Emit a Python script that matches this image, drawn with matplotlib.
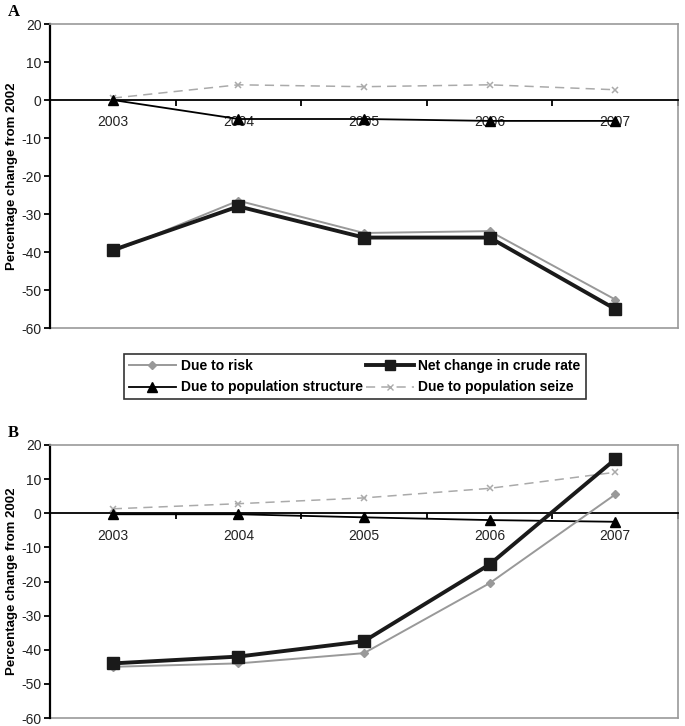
import matplotlib
matplotlib.use("Agg")
import matplotlib.pyplot as plt
from matplotlib.lines import Line2D

plt.rcParams['font.family'] = ['Liberation Sans', 'DejaVu Sans']
plt.rcParams['axes.unicode_minus'] = False

years = ["2003", "2004", "2005", "2006", "2007"]

# panel A
riskA = [-40.0, -26.5, -35.0, -34.5, -52.5]
netA = [-39.5, -28.0, -36.2, -36.2, -55.0]
structA = [0.0, -5.0, -5.0, -5.5, -5.5]
sizeA = [0.5, 4.0, 3.5, 4.0, 2.7]

# panel B
riskB = [-45.0, -44.0, -41.0, -20.5, 5.5]
netB = [-44.0, -42.0, -37.5, -15.0, 15.8]
structB = [-0.3, -0.3, -1.2, -2.0, -2.5]
sizeB = [1.3, 2.8, 4.5, 7.3, 12.0]

labels = ["Due to risk", "Due to population structure",
          "Net change in crude rate", "Due to population seize"]
yticks = [-60, -50, -40, -30, -20, -10, 0, 10, 20]

fig = plt.figure(figsize=(6.85, 7.26), dpi=100)
axA = fig.add_axes([50/685, 1-328/726, 628/685, 304/726])
axB = fig.add_axes([50/685, 1-718/726, 628/685, 273/726])


def draw(ax, risk, net, struct, size):
    x = list(range(len(years)))
    ax.plot(x, size, color="#aaaaaa", lw=1.1, dashes=(6, 4), marker="x",
            ms=5, mew=1.1, zorder=3)
    ax.plot(x, struct, color="black", lw=1.3, marker="^", ms=7, zorder=4)
    ax.plot(x, risk, color="#999999", lw=1.4, marker="D", ms=4.5, zorder=5)
    ax.plot(x, net, color="#1a1a1a", lw=2.8, marker="s", ms=9, zorder=6)

    ax.set_xlim(-0.5, 4.5)
    ax.set_ylim(-60, 20)
    ax.set_yticks(yticks)
    ax.set_yticklabels([str(t) for t in yticks], fontsize=10, color="#222222")
    ax.tick_params(axis="y", length=4, width=1.3, direction="out", pad=2)

    # x axis sits at zero, ticks between categories
    ax.spines['bottom'].set_position(('data', 0))
    ax.spines['bottom'].set_linewidth(1.3)
    ax.set_xticks([0.5, 1.5, 2.5, 3.5, 4.5])
    ax.set_xticklabels([])
    ax.set_xticks(range(len(years)), minor=True)
    ax.set_xticklabels(years, minor=True, fontsize=10, color="#222222")
    ax.tick_params(axis="x", which="major", length=4, width=1.3, direction="out")
    ax.tick_params(axis="x", which="minor", length=0, pad=11)

    ax.spines['left'].set_linewidth(1.6)
    for s in ['top', 'right']:
        ax.spines[s].set_color("#999999")
        ax.spines[s].set_linewidth(1.2)
    ax.axhline(-60, color="#999999", lw=1.2, clip_on=False, zorder=1)
    ax.set_ylabel("Percentage change from 2002", fontsize=9.5,
                  fontweight="bold")
    ax.yaxis.set_label_coords(-32/628, 0.5)


draw(axA, riskA, netA, structA, sizeA)
draw(axB, riskB, netB, structB, sizeB)

fig.text(8/685, 1-12/726, "A", fontsize=12, fontweight="bold",
         family="Liberation Serif", va="center")
fig.text(8/685, 1-433/726, "B", fontsize=12, fontweight="bold",
         family="Liberation Serif", va="center")

handles = [
    Line2D([], [], color="#999999", lw=1.4, marker="D", ms=4.5),
    Line2D([], [], color="black", lw=1.3, marker="^", ms=7),
    Line2D([], [], color="#1a1a1a", lw=2.8, marker="s", ms=7),
    Line2D([], [], color="#aaaaaa", lw=1.1, dashes=(6, 4), marker="x", ms=5),
]
leg = fig.legend(handles, labels, ncol=2, loc="upper left",
                 bbox_to_anchor=(124/685, 1-354/726),
                 fancybox=False, edgecolor="black",
                 prop={"size": 10, "weight": "bold"}, handlelength=3.4,
                 borderpad=0.35, labelspacing=0.55, handletextpad=0.35,
                 columnspacing=0.25, borderaxespad=0)
leg.get_frame().set_linewidth(1.2)

fig.savefig("out.png", dpi=100)
